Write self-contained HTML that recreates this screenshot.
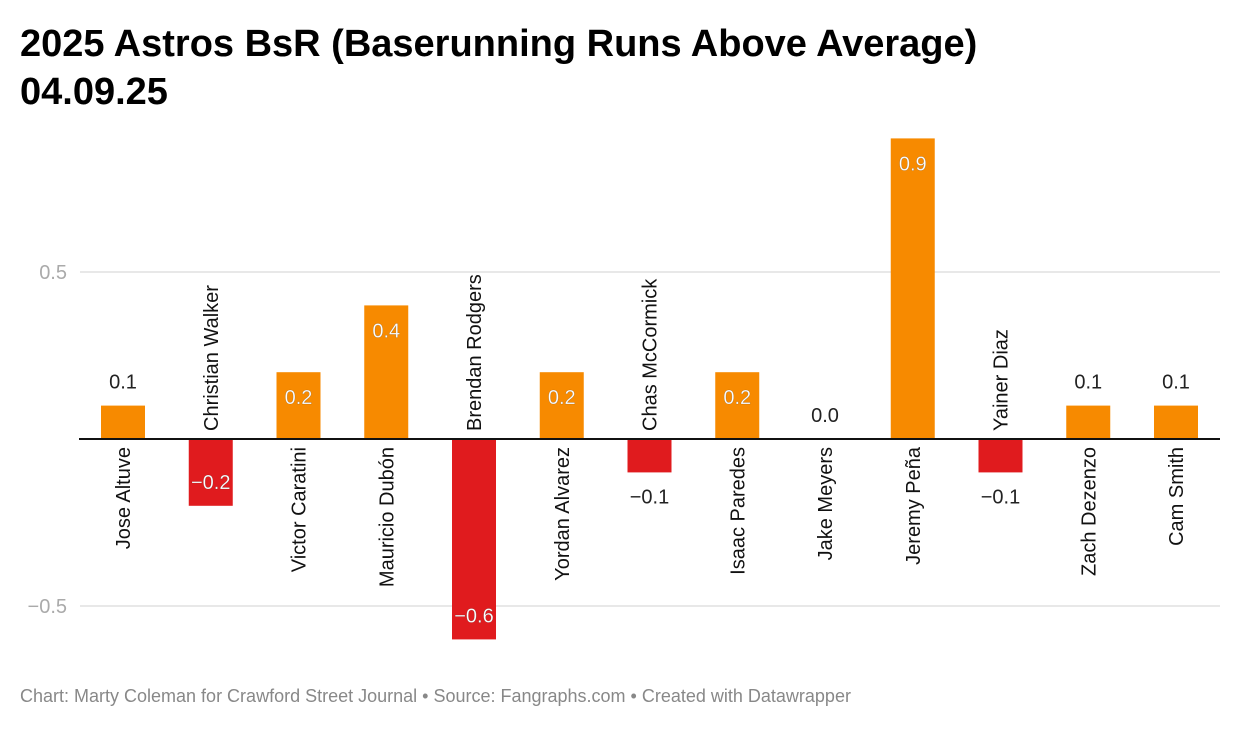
<!DOCTYPE html>
<html><head><meta charset="utf-8"><style>
body{margin:0;background:#fff;font-family:"Liberation Sans",sans-serif;}
#wrap{position:relative;width:1240px;height:732px;overflow:hidden}
h1{position:absolute;left:20px;top:20px;margin:0;font-size:38px;line-height:48px;font-weight:bold;color:#000}
#foot{position:absolute;left:20px;top:686px;font-size:18px;color:#888}
</style></head><body><div id="wrap">
<h1>2025 Astros BsR (Baserunning Runs Above Average)<br>04.09.25</h1>
<svg id="chart" width="1240" height="732" style="position:absolute;left:0;top:0"></svg>
<div id="foot">Chart: Marty Coleman for Crawford Street Journal • Source: Fangraphs.com • Created with Datawrapper</div>
</div>
<script>
const players=["Jose Altuve","Christian Walker","Victor Caratini","Mauricio Dubón","Brendan Rodgers","Yordan Alvarez","Chas McCormick","Isaac Paredes","Jake Meyers","Jeremy Peña","Yainer Diaz","Zach Dezenzo","Cam Smith"];
const values=[0.1,-0.2,0.2,0.4,-0.6,0.2,-0.1,0.2,0.0,0.9,-0.1,0.1,0.1];
const ticks=[0.5,-0.5];
const NS="http://www.w3.org/2000/svg";
const svg=document.getElementById('chart');
const y=v=>439-v*334;
const x=i=>123+i*87.75;
function mk(t,a){const e=document.createElementNS(NS,t);for(const k in a)e.setAttribute(k,a[k]);svg.appendChild(e);return e;}
ticks.forEach(t=>{
 const l=mk('line',{x1:80,x2:1220,y1:y(t),y2:y(t),stroke:'#e0e0e0','stroke-width':1.5});
 
 
 const tx=mk('text',{x:67,y:y(t)+7,'text-anchor':'end','font-size':20,fill:'#aaa'});
 tx.textContent=(t<0?'\u22120.5':'0.5');
 
 
});
values.forEach((v,i)=>{
 const cx=x(i),top=Math.min(y(v),y(0)),h=Math.abs(y(v)-y(0));
 const r=mk('rect',{x:cx-22,y:top,width:44,height:h,fill:v>=0?'#f78a00':'#e01b1e'});
 
 
 const inside=h>50;
 let ly;
 if(v>=0) ly=inside?y(v)+25:y(v)-24; else ly=inside?y(v)-24:y(v)+24;
 const s=(v<0?'\u2212':'')+Math.abs(v).toFixed(1);
 const t=mk('text',{x:cx,y:ly+7,'text-anchor':'middle','font-size':20,fill:inside?'#fff':'#222'});
 if(inside){t.setAttribute('stroke','rgba(0,0,0,0.25)');t.setAttribute('stroke-width','0.5');}
 t.textContent=s;
 
 
 const n=mk('text',{'font-size':20,fill:'#111'});
 if(v>=0){n.setAttribute('text-anchor','end');n.setAttribute('transform',`translate(${cx+7},447) rotate(-90)`);}
 else{n.setAttribute('text-anchor','start');n.setAttribute('transform',`translate(${cx+7},431) rotate(-90)`);}
 n.textContent=players[i];
 
 
});
const z=mk('line',{x1:79,x2:1220,y1:y(0),y2:y(0),stroke:'#111','stroke-width':2});


</script></body></html>
